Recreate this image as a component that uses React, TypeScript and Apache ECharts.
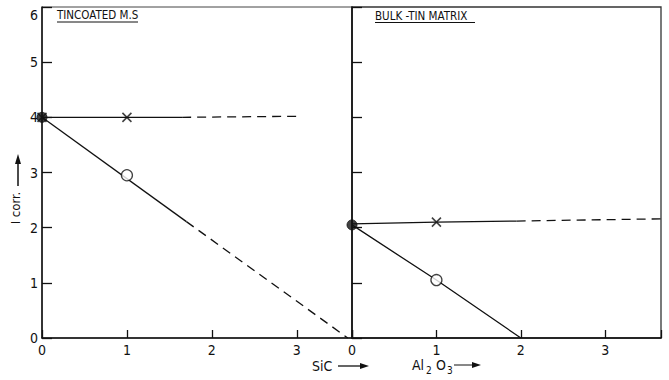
import React, { useEffect, useRef } from "react";
import * as echarts from "echarts";

// Panel titles
const leftTitle = "TINCOATED M.S";
const rightTitle = "BULK -TIN MATRIX";

// Tick values shared by both panels
const xTicks = [0, 1, 2, 3];
const yTicks = [0, 1, 2, 3, 4, 5, 6];

// Left panel (SiC): measured points
const sicCross = [[1, 4.0]];
const sicCircle = [[1, 2.95]];
const sicStart = [[0, 4.0]];
// Left panel fitted lines (solid part, then extrapolated dashed part)
const sicFlatSolid = [[0, 4.0], [1, 4.0], [1.65, 4.0]];
const sicFlatDashed = [[1.65, 4.0], [3.05, 4.02]];
const sicFallSolid = [[0, 4.0], [1.7, 2.11]];
const sicFallDashed = [[1.7, 2.11], [3.6, 0]];

// Right panel (Al2O3): measured points
const alCross = [[1, 2.1]];
const alCircle = [[1, 1.05]];
const alStart = [[0, 2.05]];
const alFlatSolid = [[0, 2.07], [1, 2.1], [1.95, 2.12]];
const alFlatDashed = [[1.95, 2.12], [3.66, 2.16]];
const alFallSolid = [[0, 2.05], [1, 1.05], [2, 0]];

const INK = "#111";
const FONT = "'DejaVu Sans Condensed', 'Liberation Sans', sans-serif";
const CROSS = "path://M0,0L10,10M10,0L0,10";

export default function App() {
  const ref = useRef<HTMLDivElement>(null);

  useEffect(() => {
    if (!ref.current) return;
    const chart = echarts.init(ref.current, undefined, { renderer: "svg" });

    const xAxisBase = (gridIndex: number, max: number) => ({
      type: "value" as const,
      gridIndex,
      min: 0,
      max,
      interval: 1,
      axisLine: { show: true, onZero: false, lineStyle: { color: INK, width: 1.5 } },
      axisTick: { show: true, inside: true, length: 8, lineStyle: { color: INK, width: 1.3 } },
      axisLabel: {
        color: INK,
        fontSize: 14,
        fontFamily: FONT,
        margin: 5,
        formatter: (v: number) => (xTicks.includes(v) ? String(v) : ""),
      },
      splitLine: { show: false },
    });

    const yAxisBase = (gridIndex: number, labels: boolean) => ({
      type: "value" as const,
      gridIndex,
      min: 0,
      max: 6,
      interval: 1,
      axisLine: { show: true, lineStyle: { color: INK, width: 1.5 } },
      axisTick: { show: true, inside: true, length: 10, lineStyle: { color: INK, width: 1.3 } },
      axisLabel: {
        show: labels,
        color: INK,
        fontSize: 14,
        fontFamily: FONT,
        margin: 4,
        formatter: (v: number) =>
          yTicks.includes(v) ? (v === 6 ? "{top|6}" : String(v)) : "",
        rich: { top: { fontSize: 14, fontFamily: FONT, color: INK, padding: [16, 0, 0, 0] } },
      },
      splitLine: { show: false },
    });

    const line = (xi: number, data: number[][], dashed: boolean) => ({
      type: "line" as const,
      xAxisIndex: xi,
      yAxisIndex: xi,
      data,
      symbol: "none",
      lineStyle: { color: INK, width: 1.3, type: dashed ? [9, 6] : "solid" },
      silent: true,
    });

    const crossMarks = (xi: number, data: number[][]) => ({
      type: "scatter" as const,
      xAxisIndex: xi,
      yAxisIndex: xi,
      data,
      symbol: CROSS,
      symbolSize: 9,
      itemStyle: { color: "none", borderColor: INK, borderWidth: 1.6 },
      z: 5,
    });

    const openMarks = (xi: number, data: number[][]) => ({
      type: "scatter" as const,
      xAxisIndex: xi,
      yAxisIndex: xi,
      data,
      symbol: "circle",
      symbolSize: 11,
      itemStyle: { color: "#fff", borderColor: INK, borderWidth: 1.3 },
      z: 5,
    });

    const filledMarks = (xi: number, data: number[][]) => ({
      type: "scatter" as const,
      xAxisIndex: xi,
      yAxisIndex: xi,
      data,
      symbol: "circle",
      symbolSize: 10,
      itemStyle: { color: INK, borderColor: INK, borderWidth: 1 },
      z: 6,
    });

    const txt = (x: number, y: number, text: string, size: number) => ({
      type: "text",
      x,
      y,
      style: { text, font: `${size}px ${FONT}`, fill: INK, verticalAlign: "middle" },
    });

    chart.setOption({
      animation: false,
      backgroundColor: "#fff",
      grid: [
        { left: 42, top: 7, width: 310, height: 331, show: true, borderColor: "#444", borderWidth: 1 },
        { left: 352, top: 7, width: 309, height: 331, show: true, borderColor: "#333", borderWidth: 1.3 },
      ],
      xAxis: [xAxisBase(0, 3.65), xAxisBase(1, 3.66)],
      yAxis: [yAxisBase(0, true), yAxisBase(1, false)],
      series: [
        line(0, sicFlatSolid, false),
        line(0, sicFlatDashed, true),
        line(0, sicFallSolid, false),
        line(0, sicFallDashed, true),
        crossMarks(0, sicCross),
        openMarks(0, sicCircle),
        filledMarks(0, sicStart),
        crossMarks(0, sicStart),
        line(1, alFlatSolid, false),
        line(1, alFlatDashed, true),
        line(1, alFallSolid, false),
        crossMarks(1, alCross),
        openMarks(1, alCircle),
        filledMarks(1, alStart),
      ],
      graphic: [
        // panel titles, underlined
        txt(57, 15, leftTitle, 11.5),
        { type: "line", shape: { x1: 57, y1: 22, x2: 138, y2: 22 }, style: { stroke: INK, lineWidth: 1 } },
        txt(375, 16, rightTitle, 11.5),
        { type: "line", shape: { x1: 375, y1: 22.5, x2: 475, y2: 22.5 }, style: { stroke: INK, lineWidth: 1 } },
        // y-axis name with upward arrow
        {
          type: "text",
          x: 15,
          y: 208,
          rotation: Math.PI / 2,
          style: { text: "I corr.", font: `13px ${FONT}`, fill: INK, align: "center", verticalAlign: "middle" },
        },
        { type: "line", shape: { x1: 18, y1: 186, x2: 18, y2: 160 }, style: { stroke: INK, lineWidth: 1.5 } },
        {
          type: "polygon",
          shape: { points: [[18, 154], [15, 164], [21, 164]] },
          style: { fill: INK },
        },
        // x-axis names
        txt(312, 366, "SiC", 14),
        { type: "line", shape: { x1: 338, y1: 366, x2: 362, y2: 366 }, style: { stroke: INK, lineWidth: 1.3 } },
        {
          type: "polygon",
          shape: { points: [[369, 366], [360, 363], [360, 369]] },
          style: { fill: INK },
        },
        txt(412, 365, "Al", 14),
        txt(426, 370, "2", 10),
        txt(436, 365, "O", 14),
        txt(447, 370, "3", 10),
        { type: "line", shape: { x1: 454, y1: 365, x2: 474, y2: 365 }, style: { stroke: INK, lineWidth: 1 } },
        {
          type: "polygon",
          shape: { points: [[481, 365], [472, 362], [472, 368]] },
          style: { fill: INK },
        },
      ],
    });

    return () => chart.dispose();
  }, []);

  return (
    <div
      ref={ref}
      style={{ position: "absolute", left: 0, top: 0, width: 669, height: 380, background: "#fff" }}
    />
  );
}
